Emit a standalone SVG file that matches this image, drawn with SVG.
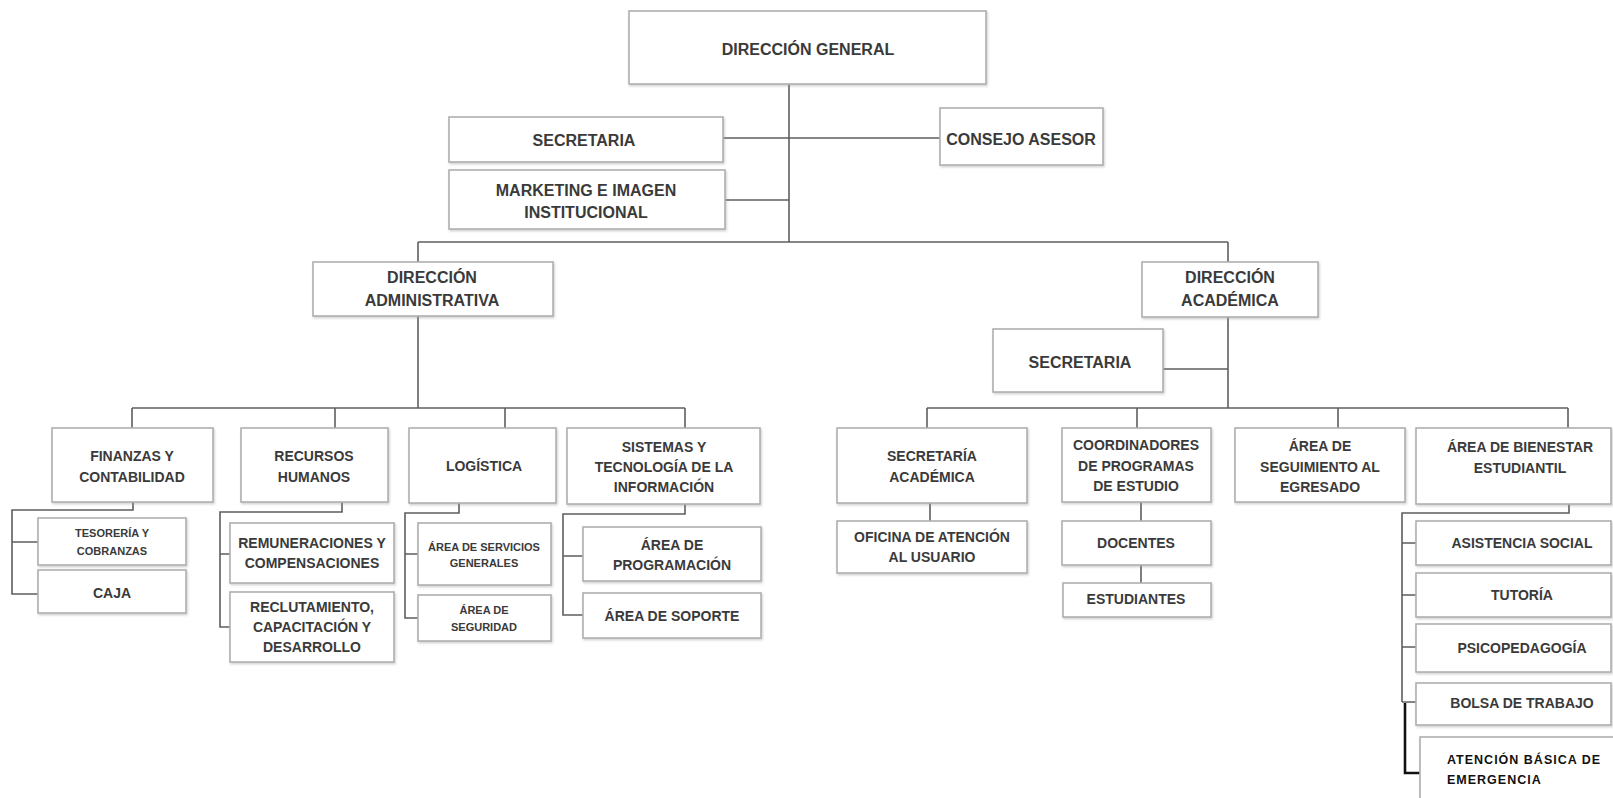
<svg xmlns="http://www.w3.org/2000/svg" width="1613" height="798" viewBox="0 0 1613 798">
<defs>
<filter id="sh" x="-5%" y="-5%" width="110%" height="120%">
<feDropShadow dx="1" dy="1.5" stdDeviation="0.8" flood-color="#999" flood-opacity="0.45"/>
</filter>
<style>
.box{fill:#fff;stroke:#b0b0b0;stroke-width:1.6;filter:url(#sh)}
.t{font-family:"Liberation Sans",Arial,sans-serif;font-weight:bold;fill:#3a3a3a;text-anchor:middle}
.f16{font-size:16px}
.f14{font-size:14px}
.f11{font-size:11px}
.c{fill:none;stroke:#5e5e5e;stroke-width:1.6}
.ck{fill:none;stroke:#111;stroke-width:2.6}
.blk{font-family:"Liberation Sans",Arial,sans-serif;font-weight:bold;fill:#111;font-size:12.5px;letter-spacing:1px}
</style>
</defs>
<rect width="1613" height="798" fill="#fff"/>

<g id="connectors">
<path class="c" d="M789,84 V242"/>
<path class="c" d="M723,138 H940"/>
<path class="c" d="M725,200 H789"/>
<path class="c" d="M418,242 H1228"/>
<path class="c" d="M418,242 V262"/>
<path class="c" d="M1228,242 V262"/>
<path class="c" d="M418,316 V408"/>
<path class="c" d="M1228,317 V408"/>
<path class="c" d="M1163,369 H1228"/>
<path class="c" d="M132,408 H685"/>
<path class="c" d="M132,408 V428 M335,408 V428 M505,408 V428 M685,408 V428"/>
<path class="c" d="M927,408 H1568"/>
<path class="c" d="M927,408 V428 M1137,408 V428 M1338,408 V428 M1568,408 V428"/>
<path class="c" d="M133,502 V510 H12 V594 H38 M12,542 H38"/>
<path class="c" d="M342,502 V512 H220 V627 H230 M220,554 H230"/>
<path class="c" d="M459,503 V513 H405 V618 H418 M405,554 H418"/>
<path class="c" d="M685,504 V514 H563 V615 H583 M563,556 H583"/>
<path class="c" d="M930,503 V521"/>
<path class="c" d="M1141,502 V521 M1141,565 V583"/>
<path class="c" d="M1569,504 V513 H1402 V702 M1402,543 H1416 M1402,595 H1416 M1402,647 H1416 M1402,702 H1416"/>
<path class="ck" d="M1405,703 V773 H1420"/>
</g>

<g id="direccion-general"><rect class="box" x="629" y="11" width="357" height="73"/><text class="t f16" x="808" y="55">DIRECCIÓN GENERAL</text></g>
<g id="secretaria-general"><rect class="box" x="449" y="117" width="274" height="45"/><text class="t f16" x="584" y="146">SECRETARIA</text></g>
<g id="consejo-asesor"><rect class="box" x="940" y="108" width="163" height="57"/><text class="t f16" x="1021" y="145">CONSEJO ASESOR</text></g>
<g id="marketing"><rect class="box" x="449" y="170" width="276" height="59"/><text class="t f16" x="586" y="196">MARKETING E IMAGEN</text><text class="t f16" x="586" y="218">INSTITUCIONAL</text></g>

<g id="direccion-administrativa"><rect class="box" x="313" y="262" width="240" height="54"/><text class="t f16" x="432" y="283">DIRECCIÓN</text><text class="t f16" x="432" y="306">ADMINISTRATIVA</text></g>
<g id="direccion-academica"><rect class="box" x="1142" y="262" width="176" height="55"/><text class="t f16" x="1230" y="283">DIRECCIÓN</text><text class="t f16" x="1230" y="306">ACADÉMICA</text></g>
<g id="secretaria-academica-dir"><rect class="box" x="993" y="329" width="170" height="63"/><text class="t f16" x="1080" y="368">SECRETARIA</text></g>

<g id="finanzas"><rect class="box" x="52" y="428" width="161" height="74"/><text class="t f14" x="132" y="461">FINANZAS Y</text><text class="t f14" x="132" y="482">CONTABILIDAD</text></g>
<g id="rrhh"><rect class="box" x="241" y="428" width="147" height="74"/><text class="t f14" x="314" y="461">RECURSOS</text><text class="t f14" x="314" y="482">HUMANOS</text></g>
<g id="logistica"><rect class="box" x="409" y="428" width="147" height="75"/><text class="t f14" x="484" y="471">LOGÍSTICA</text></g>
<g id="sistemas"><rect class="box" x="567" y="428" width="193" height="76"/><text class="t f14" x="664" y="452">SISTEMAS Y</text><text class="t f14" x="664" y="472">TECNOLOGÍA DE LA</text><text class="t f14" x="664" y="492">INFORMACIÓN</text></g>

<g id="tesoreria"><rect class="box" x="38" y="518" width="148" height="47"/><text class="t f11" x="112" y="537">TESORERÍA Y</text><text class="t f11" x="112" y="555">COBRANZAS</text></g>
<g id="caja"><rect class="box" x="38" y="570" width="148" height="43"/><text class="t f14" x="112" y="598">CAJA</text></g>
<g id="remuneraciones"><rect class="box" x="230" y="523" width="164" height="60"/><text class="t f14" x="312" y="548">REMUNERACIONES Y</text><text class="t f14" x="312" y="568">COMPENSACIONES</text></g>
<g id="reclutamiento"><rect class="box" x="230" y="592" width="164" height="70"/><text class="t f14" x="312" y="612">RECLUTAMIENTO,</text><text class="t f14" x="312" y="632">CAPACITACIÓN Y</text><text class="t f14" x="312" y="652">DESARROLLO</text></g>
<g id="servicios-generales"><rect class="box" x="418" y="523" width="133" height="62"/><text class="t f11" x="484" y="551">ÁREA DE SERVICIOS</text><text class="t f11" x="484" y="567">GENERALES</text></g>
<g id="seguridad"><rect class="box" x="418" y="595" width="133" height="46"/><text class="t f11" x="484" y="614">ÁREA DE</text><text class="t f11" x="484" y="631">SEGURIDAD</text></g>
<g id="programacion"><rect class="box" x="583" y="527" width="178" height="54"/><text class="t f14" x="672" y="550">ÁREA DE</text><text class="t f14" x="672" y="570">PROGRAMACIÓN</text></g>
<g id="soporte"><rect class="box" x="583" y="593" width="178" height="45"/><text class="t f14" x="672" y="621">ÁREA DE SOPORTE</text></g>

<g id="secretaria-academica"><rect class="box" x="837" y="428" width="190" height="75"/><text class="t f14" x="932" y="461">SECRETARÍA</text><text class="t f14" x="932" y="482">ACADÉMICA</text></g>
<g id="oficina-atencion"><rect class="box" x="837" y="521" width="190" height="52"/><text class="t f14" x="932" y="542">OFICINA DE ATENCIÓN</text><text class="t f14" x="932" y="562">AL USUARIO</text></g>
<g id="coordinadores"><rect class="box" x="1062" y="428" width="149" height="74"/><text class="t f14" x="1136" y="450">COORDINADORES</text><text class="t f14" x="1136" y="471">DE PROGRAMAS</text><text class="t f14" x="1136" y="491">DE ESTUDIO</text></g>
<g id="docentes"><rect class="box" x="1062" y="521" width="149" height="44"/><text class="t f14" x="1136" y="548">DOCENTES</text></g>
<g id="estudiantes"><rect class="box" x="1063" y="583" width="148" height="34"/><text class="t f14" x="1136" y="604">ESTUDIANTES</text></g>
<g id="seguimiento"><rect class="box" x="1235" y="428" width="170" height="74"/><text class="t f14" x="1320" y="451">ÁREA DE</text><text class="t f14" x="1320" y="472">SEGUIMIENTO AL</text><text class="t f14" x="1320" y="492">EGRESADO</text></g>
<g id="bienestar"><rect class="box" x="1416" y="428" width="195" height="76"/><text class="t f14" x="1520" y="452">ÁREA DE BIENESTAR</text><text class="t f14" x="1520" y="473">ESTUDIANTIL</text></g>
<g id="asistencia"><rect class="box" x="1416" y="521" width="195" height="44"/><text class="t f14" x="1522" y="548">ASISTENCIA SOCIAL</text></g>
<g id="tutoria"><rect class="box" x="1416" y="573" width="195" height="44"/><text class="t f14" x="1522" y="600">TUTORÍA</text></g>
<g id="psicopedagogia"><rect class="box" x="1416" y="624" width="195" height="48"/><text class="t f14" x="1522" y="653">PSICOPEDAGOGÍA</text></g>
<g id="bolsa"><rect class="box" x="1416" y="683" width="195" height="42"/><text class="t f14" x="1522" y="708">BOLSA DE TRABAJO</text></g>
<g id="atencion-basica"><rect class="box" x="1420" y="737" width="195" height="70"/><text class="blk" x="1447" y="764">ATENCIÓN BÁSICA DE</text><text class="blk" x="1447" y="784">EMERGENCIA</text></g>
</svg>
